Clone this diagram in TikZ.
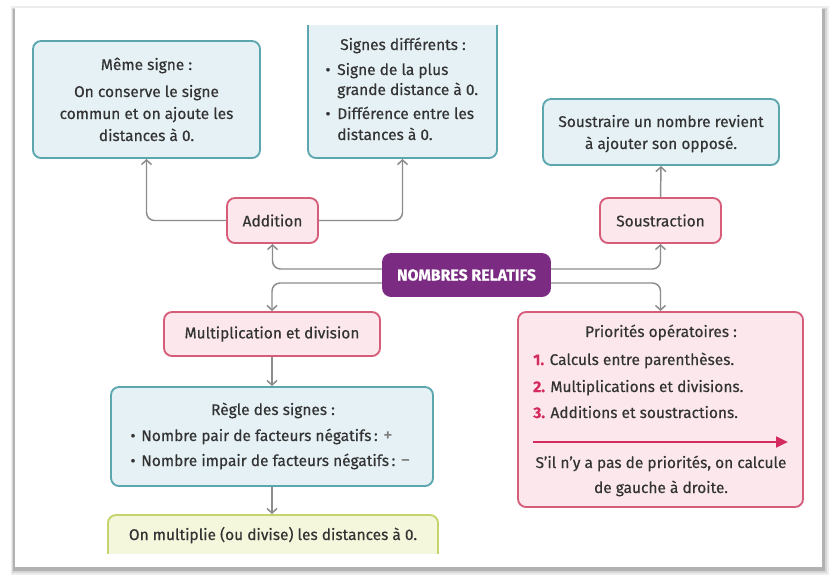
\documentclass[tikz,border=0pt]{standalone}
\usepackage{fontspec}
\setmainfont{Fira Sans}[FakeBold=0.45]
\usetikzlibrary{arrows.meta}
\definecolor{txt}{HTML}{333333}
\definecolor{bluefill}{HTML}{E5F1F5}
\definecolor{blueline}{HTML}{5CA7AE}
\definecolor{pinkfill}{HTML}{FCE8EC}
\definecolor{pinkline}{HTML}{D65D7A}
\definecolor{purp}{HTML}{7B2C82}
\definecolor{greenfill}{HTML}{F4F7DC}
\definecolor{greenline}{HTML}{C6D46C}
\definecolor{connc}{HTML}{8C8C8C}
\definecolor{crim}{HTML}{D42A5E}
\newcommand\boxat[6]{\node[#1, minimum width={(#5-#3)*0.75pt}, minimum height={(#6-#4)*0.75pt}] (#2) at ({(#3+#5)/2},{(#4+#6)/2})}
\begin{document}
\begin{tikzpicture}[x=0.75pt,y=-0.75pt,
  font=\fontsize{11.6}{13}\selectfont, text=txt,
  basebox/.style={rounded corners=6pt, line width=1.4pt, inner sep=0pt},
  bluebox/.style={basebox, draw=blueline, fill=bluefill},
  pinkbox/.style={basebox, draw=pinkline, fill=pinkfill},
  greenbox/.style={basebox, draw=greenline, fill=greenfill},
  purpbox/.style={basebox, draw=purp, fill=purp, text=white, font=\fontsize{11.9}{13}\selectfont\bfseries},
  lbl/.style={inner sep=0pt, anchor=base},
  lbll/.style={inner sep=0pt, anchor=base west},
  conn/.style={draw=connc, line width=1.1pt, -{Straight Barb[length=3.5pt,width=7.5pt]}, rounded corners=6pt}]
\useasboundingbox (0,0) rectangle (834,575);
% frame with shadow
\fill[black!7] (11,6) rectangle (829,575);
\fill[black!16] (12,8) rectangle (827,573);
\fill[black!30] (13,9) rectangle (825,571);
\fill[white] (15,8) rectangle (822,567);

% boxes
\boxat{bluebox}{meme}{33}{41}{260}{158}{};
\begin{scope}
\clip (300,25) rectangle (505,165);
\boxat{bluebox}{diff}{308}{15}{497}{158}{};
\end{scope}
\boxat{bluebox}{oppose}{543}{99}{779}{165}{};
\boxat{pinkbox}{add}{227}{198}{318}{243}{Addition};
\boxat{pinkbox}{sous}{600}{198}{721}{243}{Soustraction};
\boxat{purpbox}{nomb}{383}{254}{550}{296}{NOMBRES RELATIFS};
\boxat{pinkbox}{mult}{164}{312}{380}{356}{Multiplication et division};
\boxat{bluebox}{regle}{111}{387}{433}{486}{};
\begin{scope}
\clip (100,505) rectangle (445,553);
\boxat{greenbox}{green}{108}{515}{438}{565}{};
\end{scope}
\boxat{pinkbox}{prio}{518}{312}{803}{507}{};

% texts
\node[lbl] (t1) at (146.5,70) {Même signe :};
\node[lbl] (t2) at (146.5,97) {On conserve le signe};
\node[lbl] (t3) at (146.5,119) {commun et on ajoute les};
\node[lbl] (t4) at (146.5,141) {distances à 0.};

\node[lbl] (d1) at (403,50) {Signes différents :};
\node[lbl] (d2b) at (328,75) {•};
\node[lbll] (d2) at (337,75) {Signe de la plus};
\node[lbll] (d3) at (337,95) {grande distance à 0.};
\node[lbl] (d4b) at (328,119) {•};
\node[lbll] (d4) at (337,119) {Différence entre les};
\node[lbll] (d5) at (337,140) {distances à 0.};

\node[lbl] (o1) at (661,127) {Soustraire un nombre revient};
\node[lbl] (o2) at (661,149) {à ajouter son opposé.};

\node[lbl] (r1) at (273,415) {Règle des signes :};
\node[lbl] (r2b) at (133,441) {•};
\node[lbll] (r2) at (141,441) {Nombre pair de facteurs négatifs\,: \textcolor{black!50}{\fontsize{14}{14}\selectfont +}};
\node[lbl] (r3b) at (133,466) {•};
\node[lbll] (r3) at (141,466) {Nombre impair de facteurs négatifs\,: \textcolor{black!50}{\fontsize{14}{14}\selectfont −}};

\node[lbl] (g1) at (273,540) {On multiplie (ou divise) les distances à 0.};

\node[lbl] (p1) at (661,337) {Priorités opératoires :};
\node[lbll] (p2) at (533,365) {\textcolor{crim}{\bfseries 1.} Calculs entre parenthèses.};
\node[lbll] (p3) at (533,392) {\textcolor{crim}{\bfseries 2.} Multiplications et divisions.};
\node[lbll] (p4) at (533,418) {\textcolor{crim}{\bfseries 3.} Additions et soustractions.};
\coordinate (aL) at (533,442);
\coordinate (aR) at (788,442);
\draw[crim, line width=2pt, -{Triangle[length=9pt,width=8pt]}] (aL) -- (aR);
\node[lbl] (p5) at (661,468) {S’il n’y a pas de priorités, on calcule};
\node[lbl] (p6) at (661,493) {de gauche à droite.};

% connectors
\draw[conn] (add.west) -| (meme.south);
\draw[conn] (add.east) -| (diff.south);
\draw[conn] ([yshift=4.5pt]nomb.west) -| (add.south);
\draw[conn] ([yshift=4.5pt]nomb.east) -| (sous.south);
\draw[conn] (sous.north) -- (oppose.south);
\draw[conn] ([yshift=-6pt]nomb.west) -| (mult.north);
\draw[conn] ([yshift=-6pt]nomb.east) -| (prio.north);
\draw[conn] (mult.south) -- (mult.south |- regle.north);
\draw[conn] (regle.south) -- (regle.south |- green.north);
\end{tikzpicture}
\end{document}
